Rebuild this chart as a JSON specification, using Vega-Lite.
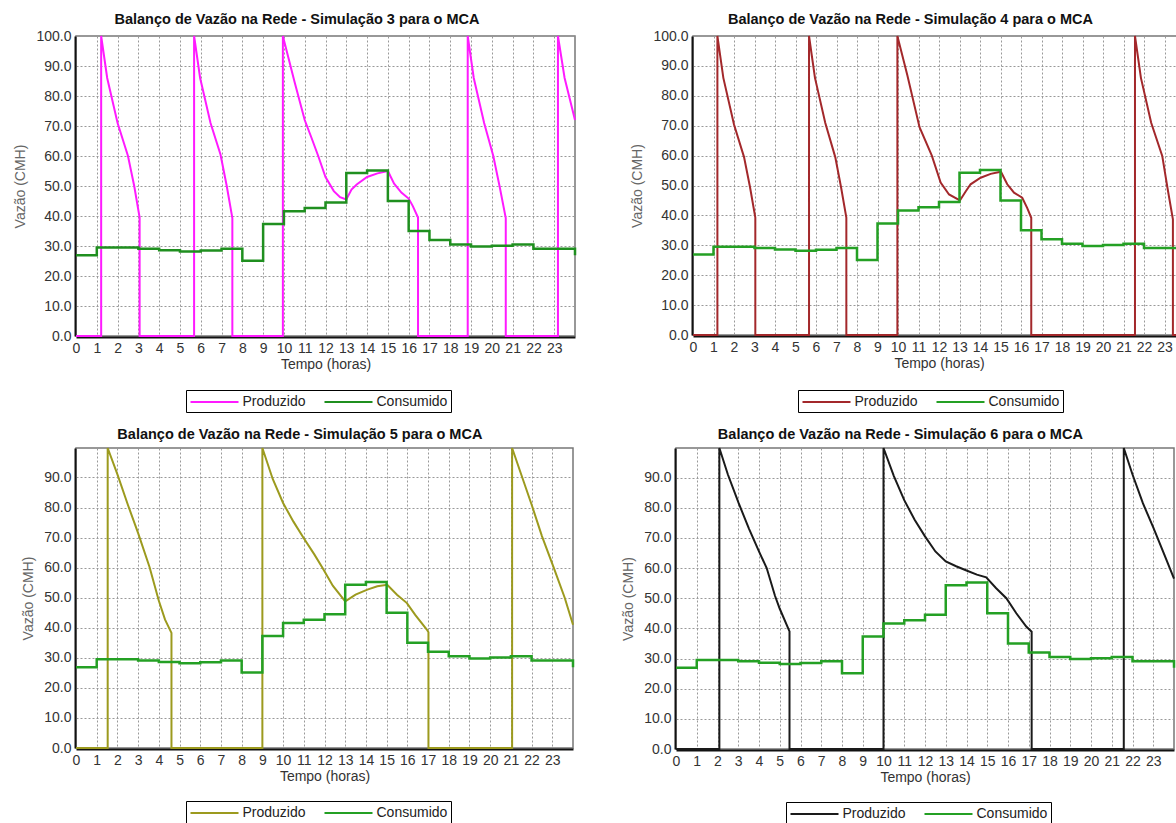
{
  "$schema": "https://vega.github.io/schema/vega-lite/v6.json",
  "padding": {"left": 13, "top": 10, "right": 0, "bottom": 0},
  "background": "white",
  "datasets": {
    "cons": [
      {"t": 0, "v": 26.9}, {"t": 1, "v": 29.5}, {"t": 2, "v": 29.5}, {"t": 3, "v": 29.1},
      {"t": 4, "v": 28.6}, {"t": 5, "v": 28.2}, {"t": 6, "v": 28.5}, {"t": 7, "v": 29.1},
      {"t": 8, "v": 25.1}, {"t": 9, "v": 37.3}, {"t": 10, "v": 41.6}, {"t": 11, "v": 42.7},
      {"t": 12, "v": 44.5}, {"t": 13, "v": 54.3}, {"t": 14, "v": 55.2}, {"t": 15, "v": 45.0},
      {"t": 16, "v": 35.0}, {"t": 17, "v": 32.0}, {"t": 18, "v": 30.5}, {"t": 19, "v": 29.8},
      {"t": 20, "v": 30.1}, {"t": 21, "v": 30.5}, {"t": 22, "v": 29.1}, {"t": 23, "v": 29.1},
      {"t": 24, "v": 26.9}
    ],
    "p3": [
      {"t": 0, "v": 0}, {"t": 1.21, "v": 0}, {"t": 1.21, "v": 100}, {"t": 1.5, "v": 86}, {"t": 2.0, "v": 71}, {"t": 2.5, "v": 60}, {"t": 2.8, "v": 50}, {"t": 3.06, "v": 39.5}, {"t": 3.06, "v": 0},
      {"t": 5.68, "v": 0}, {"t": 5.68, "v": 100}, {"t": 5.97, "v": 86}, {"t": 6.47, "v": 71}, {"t": 6.95, "v": 60.5}, {"t": 7.25, "v": 50}, {"t": 7.52, "v": 39.3}, {"t": 7.52, "v": 0},
      {"t": 9.95, "v": 0}, {"t": 9.95, "v": 100}, {"t": 10.5, "v": 85}, {"t": 11.0, "v": 72}, {"t": 11.33, "v": 66}, {"t": 11.65, "v": 60}, {"t": 12.0, "v": 53}, {"t": 12.4, "v": 48.3}, {"t": 12.7, "v": 46.3}, {"t": 13.0, "v": 45.5},
      {"t": 13.25, "v": 48.8}, {"t": 13.5, "v": 50.5}, {"t": 14.0, "v": 53.0}, {"t": 14.5, "v": 54.2}, {"t": 15.0, "v": 55.0},
      {"t": 15.3, "v": 50.8}, {"t": 15.65, "v": 47.8}, {"t": 16.0, "v": 45.8}, {"t": 16.2, "v": 43.3}, {"t": 16.45, "v": 39.5}, {"t": 16.45, "v": 0},
      {"t": 18.84, "v": 0}, {"t": 18.84, "v": 100}, {"t": 19.13, "v": 86}, {"t": 19.63, "v": 71}, {"t": 20.07, "v": 60}, {"t": 20.37, "v": 50}, {"t": 20.67, "v": 39.3}, {"t": 20.67, "v": 0},
      {"t": 23.18, "v": 0}, {"t": 23.18, "v": 100}, {"t": 23.5, "v": 86}, {"t": 24.0, "v": 72}
    ],
    "p4": [
      {"t": 0, "v": 0}, {"t": 1.19, "v": 0}, {"t": 1.19, "v": 100}, {"t": 1.48, "v": 86}, {"t": 2.0, "v": 70.4}, {"t": 2.49, "v": 59.5}, {"t": 2.78, "v": 49.5}, {"t": 3.04, "v": 39.3}, {"t": 3.04, "v": 0},
      {"t": 5.66, "v": 0}, {"t": 5.66, "v": 100}, {"t": 5.95, "v": 86}, {"t": 6.45, "v": 71}, {"t": 6.94, "v": 59.5}, {"t": 7.22, "v": 49.5}, {"t": 7.48, "v": 39.3}, {"t": 7.48, "v": 0},
      {"t": 9.97, "v": 0}, {"t": 9.97, "v": 100}, {"t": 10.45, "v": 87}, {"t": 11.05, "v": 69.5}, {"t": 11.65, "v": 60}, {"t": 12.08, "v": 51}, {"t": 12.49, "v": 47}, {"t": 13.02, "v": 45},
      {"t": 13.3, "v": 48}, {"t": 13.54, "v": 50.4}, {"t": 14.03, "v": 52.6}, {"t": 14.52, "v": 53.9}, {"t": 15.02, "v": 54.6},
      {"t": 15.33, "v": 50.4}, {"t": 15.66, "v": 47.6}, {"t": 16.06, "v": 45.9}, {"t": 16.3, "v": 42.5}, {"t": 16.5, "v": 39.2}, {"t": 16.5, "v": 0},
      {"t": 21.56, "v": 0}, {"t": 21.56, "v": 100}, {"t": 21.85, "v": 86}, {"t": 22.35, "v": 71}, {"t": 22.89, "v": 59.9}, {"t": 23.15, "v": 49}, {"t": 23.41, "v": 38.7}, {"t": 23.41, "v": 0}, {"t": 24, "v": 0}
    ],
    "p5": [
      {"t": 0, "v": 0}, {"t": 1.53, "v": 0}, {"t": 1.53, "v": 99.8}, {"t": 2.0, "v": 91}, {"t": 2.5, "v": 81}, {"t": 3.0, "v": 71.5}, {"t": 3.55, "v": 60.2}, {"t": 4.0, "v": 49}, {"t": 4.3, "v": 42.7}, {"t": 4.61, "v": 38.3}, {"t": 4.61, "v": 0},
      {"t": 9.0, "v": 0}, {"t": 9.0, "v": 99.8}, {"t": 9.5, "v": 89.5}, {"t": 10.0, "v": 81.5}, {"t": 10.5, "v": 75.3}, {"t": 11.0, "v": 69.8}, {"t": 11.5, "v": 64.5}, {"t": 11.9, "v": 60}, {"t": 12.4, "v": 54}, {"t": 13.0, "v": 48.8},
      {"t": 13.5, "v": 51}, {"t": 14.07, "v": 52.7}, {"t": 14.55, "v": 53.8}, {"t": 15.03, "v": 54.3},
      {"t": 15.5, "v": 51}, {"t": 15.98, "v": 48.2}, {"t": 16.38, "v": 44.3}, {"t": 16.94, "v": 39.4}, {"t": 17.02, "v": 38.5}, {"t": 17.02, "v": 0},
      {"t": 21.06, "v": 0}, {"t": 21.06, "v": 99.8}, {"t": 21.5, "v": 91}, {"t": 22.0, "v": 81}, {"t": 22.5, "v": 70.5}, {"t": 23.06, "v": 60.2}, {"t": 23.6, "v": 50}, {"t": 24.0, "v": 41}
    ],
    "p6": [
      {"t": 0, "v": 0}, {"t": 2.09, "v": 0}, {"t": 2.09, "v": 99.8}, {"t": 2.5, "v": 91}, {"t": 3.02, "v": 81.5}, {"t": 3.52, "v": 73}, {"t": 4.02, "v": 65.2}, {"t": 4.37, "v": 60}, {"t": 4.77, "v": 50.8}, {"t": 5.0, "v": 46.5}, {"t": 5.47, "v": 39}, {"t": 5.47, "v": 0},
      {"t": 10.0, "v": 0}, {"t": 10.0, "v": 99.8}, {"t": 10.5, "v": 90.5}, {"t": 11.0, "v": 82.5}, {"t": 11.5, "v": 76}, {"t": 12.0, "v": 70.5}, {"t": 12.5, "v": 65.5}, {"t": 13.0, "v": 62.2}, {"t": 13.5, "v": 60.6}, {"t": 14.0, "v": 59.2}, {"t": 14.5, "v": 57.8}, {"t": 14.95, "v": 56.9},
      {"t": 15.43, "v": 53.3}, {"t": 15.92, "v": 50}, {"t": 16.4, "v": 45}, {"t": 16.88, "v": 40.6}, {"t": 17.14, "v": 38.9}, {"t": 17.14, "v": 0},
      {"t": 21.58, "v": 0}, {"t": 21.58, "v": 99.8}, {"t": 22.0, "v": 91}, {"t": 22.5, "v": 81.5}, {"t": 23.0, "v": 73.5}, {"t": 23.5, "v": 65}, {"t": 24.0, "v": 56.5}
    ]
  },
  "vconcat": [
    {
      "hconcat": [
        {
          "title": "Balanço de Vazão na Rede - Simulação 3 para o MCA",
          "width": 499, "height": 300,
          "encoding": {
            "x": {"field": "t", "type": "quantitative", "scale": {"domain": [0, 24], "nice": false}, "axis": {"title": "Tempo (horas)", "values": [0,1,2,3,4,5,6,7,8,9,10,11,12,13,14,15,16,17,18,19,20,21,22,23], "format": "d", "offset": 1}},
            "y": {"field": "v", "type": "quantitative", "scale": {"domain": [0, 100], "nice": false}, "axis": {"title": "Vazão (CMH)", "values": [0,10,20,30,40,50,60,70,80,90,100], "format": ".1f", "offset": 1}}
          },
          "layer": [
            {"data": {"name": "p3"}, "mark": {"type": "line", "strokeWidth": 2}, "encoding": {"order": {"value": null}, "color": {"datum": "Produzido", "type": "nominal", "scale": {"domain": ["Produzido", "Consumido"], "range": ["#ff1aff", "#1f8f1f"]}, "legend": {"legendX": 110, "legendY": 354}}}},
            {"data": {"name": "cons"}, "mark": {"type": "line", "interpolate": "step-after", "strokeWidth": 2.5}, "encoding": {"color": {"datum": "Consumido", "type": "nominal"}}}
          ]
        },
        {
          "title": "Balanço de Vazão na Rede - Simulação 4 para o MCA",
          "width": 492, "height": 299,
          "encoding": {
            "x": {"field": "t", "type": "quantitative", "scale": {"domain": [0, 24], "nice": false}, "axis": {"title": "Tempo (horas)", "values": [0,1,2,3,4,5,6,7,8,9,10,11,12,13,14,15,16,17,18,19,20,21,22,23], "format": "d", "offset": 1}},
            "y": {"field": "v", "type": "quantitative", "scale": {"domain": [0, 100], "nice": false}, "axis": {"title": "Vazão (CMH)", "values": [0,10,20,30,40,50,60,70,80,90,100], "format": ".1f", "offset": 1}}
          },
          "layer": [
            {"data": {"name": "p4"}, "mark": {"type": "line", "strokeWidth": 2}, "encoding": {"order": {"value": null}, "color": {"datum": "Produzido", "type": "nominal", "scale": {"domain": ["Produzido", "Consumido"], "range": ["#a3282b", "#24a024"]}, "legend": {"legendX": 105, "legendY": 354}}}},
            {"data": {"name": "cons"}, "mark": {"type": "line", "interpolate": "step-after", "strokeWidth": 2.5}, "encoding": {"color": {"datum": "Consumido", "type": "nominal"}}}
          ]
        }
      ],
      "spacing": 118,
      "bounds": "flush",
      "resolve": {"scale": {"color": "independent", "x": "independent", "y": "independent"}, "legend": {"color": "independent"}}
    },
    {
      "hconcat": [
        {
          "title": "Balanço de Vazão na Rede - Simulação 5 para o MCA",
          "width": 497, "height": 300,
          "encoding": {
            "x": {"field": "t", "type": "quantitative", "scale": {"domain": [0, 24], "nice": false}, "axis": {"title": "Tempo (horas)", "values": [0,1,2,3,4,5,6,7,8,9,10,11,12,13,14,15,16,17,18,19,20,21,22,23], "format": "d", "offset": 1}},
            "y": {"field": "v", "type": "quantitative", "scale": {"domain": [0, 99.8], "nice": false}, "axis": {"title": "Vazão (CMH)", "values": [0,10,20,30,40,50,60,70,80,90], "format": ".1f", "offset": 1}}
          },
          "layer": [
            {"data": {"name": "p5"}, "mark": {"type": "line", "strokeWidth": 2}, "encoding": {"order": {"value": null}, "color": {"datum": "Produzido", "type": "nominal", "scale": {"domain": ["Produzido", "Consumido"], "range": ["#9c9a1e", "#24a024"]}, "legend": {"legendX": 110, "legendY": 353}}}},
            {"data": {"name": "cons"}, "mark": {"type": "line", "interpolate": "step-after", "strokeWidth": 2.5}, "encoding": {"color": {"datum": "Consumido", "type": "nominal"}}}
          ]
        },
        {
          "title": "Balanço de Vazão na Rede - Simulação 6 para o MCA",
          "width": 498, "height": 301,
          "encoding": {
            "x": {"field": "t", "type": "quantitative", "scale": {"domain": [0, 24], "nice": false}, "axis": {"title": "Tempo (horas)", "values": [0,1,2,3,4,5,6,7,8,9,10,11,12,13,14,15,16,17,18,19,20,21,22,23], "format": "d", "offset": 1}},
            "y": {"field": "v", "type": "quantitative", "scale": {"domain": [0, 99.8], "nice": false}, "axis": {"title": "Vazão (CMH)", "values": [0,10,20,30,40,50,60,70,80,90], "format": ".1f", "offset": 1}}
          },
          "layer": [
            {"data": {"name": "p6"}, "mark": {"type": "line", "strokeWidth": 2}, "encoding": {"order": {"value": null}, "color": {"datum": "Produzido", "type": "nominal", "scale": {"domain": ["Produzido", "Consumido"], "range": ["#1a1a1a", "#24a024"]}, "legend": {"legendX": 110, "legendY": 354}}}},
            {"data": {"name": "cons"}, "mark": {"type": "line", "interpolate": "step-after", "strokeWidth": 2.5}, "encoding": {"color": {"datum": "Consumido", "type": "nominal"}}}
          ]
        }
      ],
      "spacing": 103,
      "bounds": "flush",
      "resolve": {"scale": {"color": "independent", "x": "independent", "y": "independent"}, "legend": {"color": "independent"}}
    }
  ],
  "spacing": 412,
  "bounds": "flush",
  "resolve": {"scale": {"color": "independent", "x": "independent", "y": "independent"}, "legend": {"color": "independent"}},
  "config": {
    "font": "Liberation Sans",
    "view": {"stroke": "#777", "strokeWidth": 1.5},
    "axis": {
      "labelFont": "Liberation Sans", "labelFontSize": 14, "labelColor": "#333",
      "titleFont": "Liberation Sans", "titleFontSize": 14, "titleFontWeight": "normal", "titleColor": "#333",
      "grid": true, "gridColor": "#999", "gridDash": [2, 2], "gridWidth": 1,
      "ticks": false, "domainColor": "#111", "domainWidth": 2,
      "labelPadding": 4, "labelFlush": false, "labelOverlap": false
    },
    "axisX": {"titlePadding": 2, "labelPadding": 4},
    "axisY": {"titleColor": "#666", "titlePadding": 8},
    "title": {"font": "Liberation Sans", "fontSize": 14.5, "fontWeight": "bold", "color": "#111", "offset": 2, "anchor": "middle", "frame": "bounds"},
    "legend": {
      "orient": "none", "direction": "horizontal", "title": null,
      "symbolType": "M-3,0H3", "symbolSize": 256, "symbolStrokeWidth": 2,
      "symbolOffset": 16.5,
      "labelFont": "Liberation Sans", "labelFontSize": 14, "labelColor": "#222",
      "strokeColor": "#000", "fillColor": "#fff", "padding": 3,
      "columnPadding": 14, "labelOffset": 19
    }
  }
}
